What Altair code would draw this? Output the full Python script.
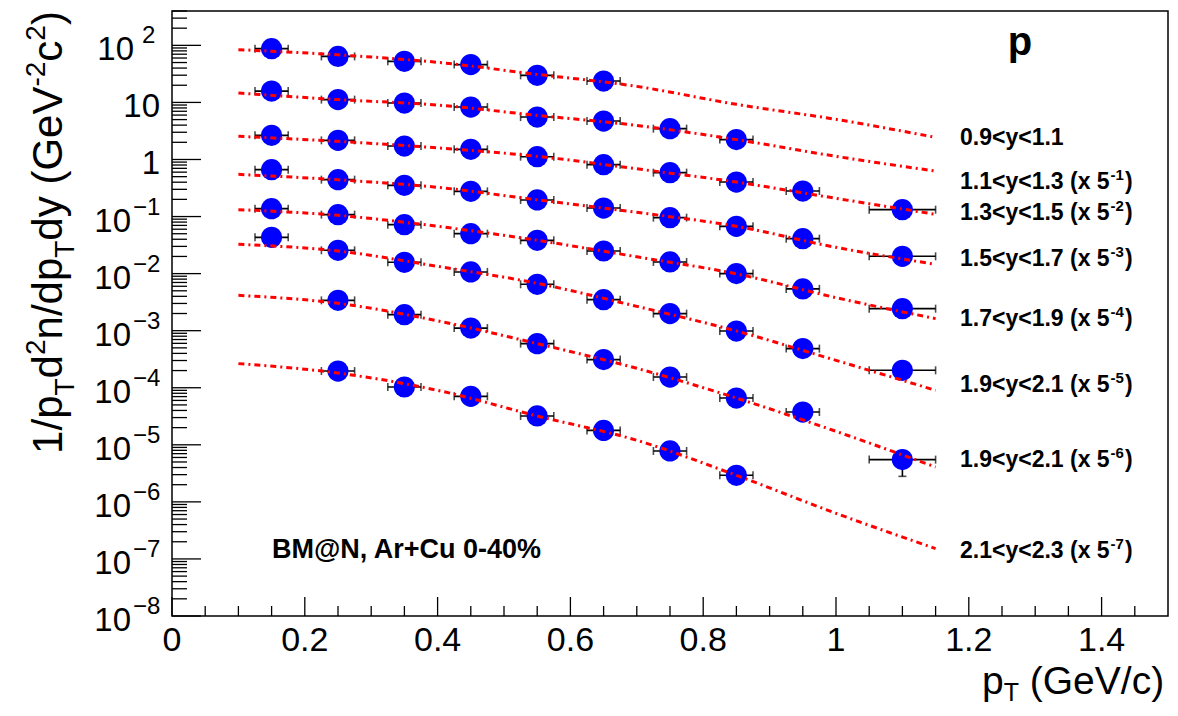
import altair as alt
import pandas as pd

# ---------------- data ----------------
PT = [0.15, 0.25, 0.35, 0.45, 0.55, 0.65, 0.75, 0.85, 0.95, 1.10]
PT_ERR = [0.025, 0.025, 0.025, 0.025, 0.025, 0.025, 0.025, 0.025, 0.025, 0.05]

s1 = [87.5, 64.0, 52.5, 46.0, 29.8, 23.7]
s2 = [15.8, 11.2, 9.75, 8.3, 5.54, 4.72, 3.47, 2.23]
s3 = [2.65, 2.165, 1.72, 1.505, 1.12, 0.812, 0.588, 0.402, 0.28, 0.132]
s4 = [0.664, 0.443, 0.352, 0.2765, 0.1954, 0.141, 0.0957, 0.0674, 0.041, 0.0201]
s5 = [0.1376, 0.108, 0.0721, 0.0502, 0.0383, 0.0249, 0.016, 0.0100, 0.0054, 0.00243]
s6 = [0.0432, 0.0256, 0.0158, 0.0107, 0.0065, 0.0035, 0.00199, 0.000986, 0.000485, 0.000202]
s7 = [0.0034, 0.00191, 0.00111, 0.000593, 0.000311, 0.000154, 6.6e-5, 3.75e-5, 5.5e-6]
s8 = [1.96e-4, 1.03e-4, 7.07e-5, 3.2e-5, 1.79e-5, 7.8e-6, 2.92e-6]
SERIES = [s1, s2, s3, s4, s5, s6, s7, s8]
START = [0, 0, 0, 0, 0, 0, 1, 1]   # index into PT of first point

# vertical error bar visible only on the last point of series 7
YERR_PT = [1.10]
YERR_VAL = [5.5e-6]
YERR_ERR = [2.7e-6]

FIT_PT = [0.10, 0.25, 0.40, 0.55, 0.70, 0.85, 1.00, 1.15]
f1 = [84.1, 68.2, 50.4, 31.0, 19.1, 9.25, 5.05, 2.44]
f2 = [14.6, 11.2, 8.99, 5.93, 3.96, 2.23, 1.135, 0.627]
f3 = [2.544, 2.079, 1.60, 1.135, 0.686, 0.402, 0.2085, 0.1093]
f4 = [0.549, 0.440, 0.325, 0.196, 0.1185, 0.0674, 0.0289, 0.01454]
f5 = [0.1322, 0.105, 0.0674, 0.0383, 0.0197, 0.0099, 0.00379, 0.001626]
f6 = [0.0326, 0.0249, 0.01341, 0.00676, 0.00267, 0.000986, 0.000302, 9.01e-5]
f7 = [0.004163, 0.003014, 0.001488, 0.000593, 0.000219, 6.6e-5, 1.724e-5, 4.08e-6]
f8 = [2.646e-4, 1.81e-4, 9.01e-5, 3.2e-5, 1.199e-5, 2.92e-6, 6.3e-7, 1.517e-7]
FITS = [f1, f2, f3, f4, f5, f6, f7, f8]

LABELS = [
    ("0.9<y<1.1", None),
    ("1.1<y<1.3 (x 5", "-1"),
    ("1.3<y<1.5 (x 5", "-2"),
    ("1.5<y<1.7 (x 5", "-3"),
    ("1.7<y<1.9 (x 5", "-4"),
    ("1.9<y<2.1 (x 5", "-5"),
    ("1.9<y<2.1 (x 5", "-6"),
    ("2.1<y<2.3 (x 5", "-7"),
]
LABEL_Y = [137, 181, 212, 258, 318, 384, 459, 550]

X_TICKS = [0.0, 0.2, 0.4, 0.6, 0.8, 1.0, 1.2, 1.4]
X_TICK_TEXT = ["0", "0.2", "0.4", "0.6", "0.8", "1", "1.2", "1.4"]
Y_NEG = [1e-1, 1e-2, 1e-3, 1e-4, 1e-5, 1e-6, 1e-7, 1e-8]
Y_NEG_EXP = ["\u22121", "\u22122", "\u22123", "\u22124", "\u22125", "\u22126", "\u22127", "\u22128"]
Y_PLAIN = [1.0, 10.0]
Y_PLAIN_TEXT = ["1", "10"]
Y_POS = [100.0]
Y_POS_EXP = ["2"]

# ---------------- layout helpers ----------------
FONT = "Liberation Sans"
OX, OY = 172.0, 11.0
W, H = 996, 605

W_REG = {'0': 556, '1': 556, '2': 556, '3': 556, '4': 556, '5': 556, '6': 556, '7': 556, '8': 556, '9': 556,
         '.': 278, '/': 278, '(': 333, ')': 333, ' ': 278, 'G': 778, 'e': 556, 'V': 667, 'c': 500,
         'p': 556, 'T': 611, 'd': 556, 'n': 556, 'y': 500, '-': 333}
W_BOLD = {'0': 556, '1': 556, '2': 556, '3': 556, '4': 556, '5': 556, '6': 556, '7': 556, '8': 556, '9': 556,
          '.': 278, '<': 584, 'y': 556, ' ': 278, '(': 333, ')': 333, 'x': 556, '-': 333}


def tw(s, size, bold=False):
    t = W_BOLD if bold else W_REG
    return sum(t.get(c, 556) for c in s) * size / 1000.0


def txt(s, x_abs, y_abs, size, bold=False, align="left", angle=None):
    kw = dict(align=align, baseline="alphabetic", fontSize=size, font=FONT,
              fontWeight="bold" if bold else "normal", color="black")
    if angle is not None:
        kw["angle"] = angle
    return alt.Chart(pd.DataFrame({"t": [s]})).mark_text(**kw).encode(
        text="t:N", x=alt.value(x_abs - OX), y=alt.value(y_abs - OY))


xs = alt.Scale(domain=[0, 1.5], nice=False, zero=False)
ys = alt.Scale(type="log", domain=[1e-8, 400], nice=False)

# ---------------- tables ----------------
rows = []
for i, (vals, st) in enumerate(zip(SERIES, START)):
    for j, v in enumerate(vals):
        p = PT[st + j]
        e = PT_ERR[st + j]
        rows.append(dict(series=i, pt=p, val=v, lo=p - e, hi=p + e))
pts = pd.DataFrame(rows)

frows = []
for i, vals in enumerate(FITS):
    for p, v in zip(FIT_PT, vals):
        frows.append(dict(series=i, pt=p, val=v))
fits = pd.DataFrame(frows)

yerr = pd.DataFrame(dict(pt=YERR_PT, lo=[v - e for v, e in zip(YERR_VAL, YERR_ERR)],
                         hi=[v + e for v, e in zip(YERR_VAL, YERR_ERR)]))

ymaj = pd.DataFrame({"v": [10.0 ** k for k in range(-8, 3)]})
ymin = pd.DataFrame({"v": [m * 10.0 ** k for k in range(-8, 3) for m in range(2, 10) if m * 10.0 ** k <= 400]})
xmaj = pd.DataFrame({"v": X_TICKS})
xmin = pd.DataFrame({"v": [round(0.05 * i, 2) for i in range(1, 30) if i % 4 != 0]})

layers = []

# ticks (ROOT style, inside the frame)
layers.append(alt.Chart(ymaj).mark_rule(color="black", strokeWidth=1.3).encode(
    y=alt.Y("v:Q", scale=ys, axis=None), x=alt.value(0), x2=alt.value(29)))
layers.append(alt.Chart(ymin).mark_rule(color="black", strokeWidth=1.3).encode(
    y=alt.Y("v:Q", scale=ys, axis=None), x=alt.value(0), x2=alt.value(15)))
layers.append(alt.Chart(xmaj).mark_rule(color="black", strokeWidth=1.3).encode(
    x=alt.X("v:Q", scale=xs, axis=None), y=alt.value(H), y2=alt.value(H - 19)))
layers.append(alt.Chart(xmin).mark_rule(color="black", strokeWidth=1.3).encode(
    x=alt.X("v:Q", scale=xs, axis=None), y=alt.value(H), y2=alt.value(H - 10)))

# error bars
layers.append(alt.Chart(pts).mark_rule(color="black", strokeWidth=1.6).encode(
    x=alt.X("lo:Q", scale=xs, axis=None), x2="hi:Q", y=alt.Y("val:Q", scale=ys, axis=None)))
layers.append(alt.Chart(pts).mark_tick(color="black", orient="vertical", size=8, thickness=1.6).encode(
    x=alt.X("lo:Q", scale=xs, axis=None), y=alt.Y("val:Q", scale=ys, axis=None)))
layers.append(alt.Chart(pts).mark_tick(color="black", orient="vertical", size=8, thickness=1.6).encode(
    x=alt.X("hi:Q", scale=xs, axis=None), y=alt.Y("val:Q", scale=ys, axis=None)))
layers.append(alt.Chart(yerr).mark_rule(color="black", strokeWidth=1.6).encode(
    x=alt.X("pt:Q", scale=xs, axis=None), y=alt.Y("lo:Q", scale=ys, axis=None), y2="hi:Q"))
layers.append(alt.Chart(yerr).mark_tick(color="black", orient="horizontal", size=8, thickness=1.6).encode(
    x=alt.X("pt:Q", scale=xs, axis=None), y=alt.Y("lo:Q", scale=ys, axis=None)))

# markers
layers.append(alt.Chart(pts).mark_circle(color="#0000ff", opacity=1, size=450).encode(
    x=alt.X("pt:Q", scale=xs, axis=None), y=alt.Y("val:Q", scale=ys, axis=None)))

# fit curves
layers.append(alt.Chart(fits).mark_line(color="#ff0000", strokeWidth=3, strokeDash=[6, 4, 2, 4],
                                        interpolate="monotone").encode(
    x=alt.X("pt:Q", scale=xs, axis=None), y=alt.Y("val:Q", scale=ys, axis=None),
    detail="series:N"))

# x tick labels
layers.append(alt.Chart(pd.DataFrame({"v": X_TICKS, "t": X_TICK_TEXT})).mark_text(
    align="center", baseline="alphabetic", fontSize=34, font=FONT, color="black").encode(
    x=alt.X("v:Q", scale=xs, axis=None), y=alt.value(651 - OY), text="t:N"))

# y tick labels
layers.append(alt.Chart(pd.DataFrame({"v": Y_PLAIN, "t": Y_PLAIN_TEXT})).mark_text(
    align="right", baseline="alphabetic", fontSize=33, font=FONT, color="black", dy=15).encode(
    y=alt.Y("v:Q", scale=ys, axis=None), x=alt.value(160 - OX), text="t:N"))
for vals, exps, base_r, exp_l in [(Y_NEG, Y_NEG_EXP, 131, 133), (Y_POS, Y_POS_EXP, 134, 142)]:
    d = pd.DataFrame({"v": vals, "b": ["10"] * len(vals), "e": exps})
    layers.append(alt.Chart(d).mark_text(
        align="right", baseline="alphabetic", fontSize=33, font=FONT, color="black", dy=15).encode(
        y=alt.Y("v:Q", scale=ys, axis=None), x=alt.value(base_r - OX), text="b:N"))
    layers.append(alt.Chart(d).mark_text(
        align="left", baseline="alphabetic", fontSize=24, font=FONT, color="black", dy=-2).encode(
        y=alt.Y("v:Q", scale=ys, axis=None), x=alt.value(exp_l - OX), text="e:N"))

# y axis title (rotated, with sub/superscripts)
YF, YS = 42, 28
yt = [("1/p", 0), ("T", 1), ("d", 0), ("2", 2), ("n/dp", 0), ("T", 1), ("dy (GeV", 0),
      ("-2", 2), ("c", 0), ("2", 2), (")", 0)]
total = sum(tw(s, YF if k == 0 else YS) for s, k in yt)
ystart = 232.5 + total / 2
cum = 0.0
for s, k in yt:
    size = YF if k == 0 else YS
    shift = {0: 0, 1: 12, 2: -17}[k]
    layers.append(txt(s, 62 + shift, ystart - cum, size, angle=270))
    cum += tw(s, size)

# x axis title: "p_T (GeV/c)"
XF, XS = 39, 25
cx = 982.0
layers.append(txt("p", cx, 694, XF))
cx += tw("p", XF)
layers.append(txt("T", cx, 701, XS))
cx += tw("T", XS) + tw(" ", XF)
layers.append(txt("(GeV/c)", cx, 694, XF))

# series labels
LF, LS = 23, 15
for (main, sup), yc in zip(LABELS, LABEL_Y):
    base = yc + 0.716 * LF / 2
    x0 = 960.0
    layers.append(txt(main, x0, base, LF, bold=True))
    if sup:
        x1 = x0 + tw(main, LF, True) + 1
        layers.append(txt(sup, x1, base - 9, LS, bold=True))
        x2 = x1 + tw(sup, LS, True) + 1
        layers.append(txt(")", x2, base, LF, bold=True))

layers.append(txt("p", 1020, 55, 40, bold=True, align="center"))
layers.append(txt("BM@N, Ar+Cu 0-40%", 272, 558, 27, bold=True))

chart = alt.layer(*layers).properties(
    width=W, height=H, background="white",
    padding={"left": OX - 8, "top": OY - 8, "right": 1, "bottom": 91},
    autosize=alt.AutoSizeParams(type="none"),
).configure_view(stroke="black", strokeWidth=1.5)

chart.save("out.html", embed_options={"renderer": "svg", "actions": False})
